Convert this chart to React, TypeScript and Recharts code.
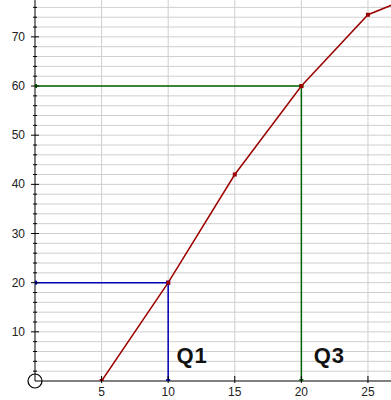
import { CartesianGrid, Line, LineChart, ReferenceDot, XAxis, YAxis } from "recharts";

// cumulative curve (last point lies past the visible x range)
const curveX = [5, 10, 15, 20, 25, 30];
const curveY = [0, 20, 42, 60, 74.5, 80];

// quartile guide lines
const q1X = [0, 10, 10];
const q1Y = [20, 20, 0];
const q3X = [0, 20, 20];
const q3Y = [60, 60, 0];

const xTicks = [5, 10, 15, 20, 25];
const yTicks = [2, 4, 6, 8, 10, 12, 14, 16, 18, 20, 22, 24, 26, 28, 30, 32, 34, 36, 38, 40, 42, 44, 46, 48, 50, 52, 54, 56, 58, 60, 62, 64, 66, 68, 70, 72, 74, 76];
const gridY = [2, 4, 6, 8, 10, 12, 14, 16, 18, 20, 22, 24, 26, 28, 30, 32, 34, 36, 38, 40, 42, 44, 46, 48, 50, 52, 54, 56, 58, 60, 62, 64, 66, 68, 70, 72, 74, 76];

const toRows = (xs: number[], ys: number[]) => xs.map((x, i) => ({ x, y: ys[i] }));

const FONT = "'Liberation Sans', Arial, sans-serif";
const RED = "#9b0000";
const BLUE = "#0000b4";
const GREEN = "#006400";

function squareDot(color: string) {
  return (p: any) => {
    if (p.cx == null || p.cy == null) return <g key={p.key ?? p.index} />;
    return <rect key={p.key ?? p.index} x={p.cx - 2} y={p.cy - 2} width={4} height={4} fill={color} />;
  };
}

function YTick({ x, y, payload }: any) {
  const v = payload.value;
  const major = v % 10 === 0;
  const len = major ? 4 : 2;
  return (
    <g>
      <line x1={x - len} x2={x + len} y1={y} y2={y} stroke="#000" />
      {major && (
        <text x={x - 10} y={y} textAnchor="end" dominantBaseline="central" fontSize={12} fontFamily={FONT} fill="#222">
          {v}
        </text>
      )}
    </g>
  );
}

function XTick({ x, y, payload }: any) {
  return (
    <g>
      <line x1={x} x2={x} y1={y - 5} y2={y + 2} stroke="#000" />
      <text x={x} y={y + 11} textAnchor="middle" dominantBaseline="central" fontSize={12} fontFamily={FONT} fill="#222">
        {payload.value}
      </text>
    </g>
  );
}

const qLabel = (text: string) => (props: any) => {
  const { viewBox } = props;
  return (
    <text x={viewBox.cx ?? viewBox.x} y={viewBox.cy ?? viewBox.y} textAnchor="middle" dominantBaseline="central" fontSize={22} fontWeight="bold" fontFamily={FONT} letterSpacing={1} fill="#111">
      {text}
    </text>
  );
};

export default function App() {
  return (
    <div style={{ position: "absolute", left: 0, top: 0 }}>
      <LineChart width={391} height={400} margin={{ top: 0, right: 0, bottom: 0, left: 0 }}>
        <CartesianGrid stroke="#cfcfcf" horizontalValues={gridY} verticalValues={xTicks} />
        <XAxis
          type="number"
          dataKey="x"
          domain={[0, 26.73]}
          allowDataOverflow
          ticks={xTicks}
          interval={0}
          height={19}
          tickSize={0}
          tickMargin={0}
          tickLine={false}
          tick={<XTick />}
          axisLine={{ stroke: "#000" }}
        />
        <YAxis
          type="number"
          dataKey="y"
          domain={[0, 77.5]}
          allowDataOverflow
          ticks={yTicks}
          interval={0}
          width={35}
          tickSize={0}
          tickMargin={0}
          tickLine={false}
          tick={<YTick />}
          axisLine={{ stroke: "#000" }}
        />
        <Line data={toRows(q1X, q1Y)} dataKey="y" stroke={BLUE} strokeWidth={1.5} dot={squareDot(BLUE)} isAnimationActive={false} />
        <Line data={toRows(q3X, q3Y)} dataKey="y" stroke={GREEN} strokeWidth={1.5} dot={squareDot(GREEN)} isAnimationActive={false} />
        <Line data={toRows(curveX, curveY)} dataKey="y" stroke={RED} strokeWidth={1.5} dot={squareDot(RED)} isAnimationActive={false} />
        <ReferenceDot x={0} y={0} r={7} fill="none" stroke="#000" strokeWidth={1.2} ifOverflow="visible" />
        <ReferenceDot x={11.8} y={5.1} r={0} fill="none" stroke="none" ifOverflow="visible" label={qLabel("Q1")} />
        <ReferenceDot x={22.1} y={5.1} r={0} fill="none" stroke="none" ifOverflow="visible" label={qLabel("Q3")} />
      </LineChart>
    </div>
  );
}
